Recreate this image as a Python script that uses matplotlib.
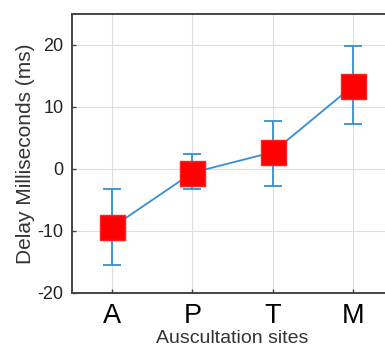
import numpy as np
import matplotlib.pyplot as plt

plt.rcParams['font.family'] = ['Liberation Sans', 'DejaVu Sans']

sites = ['A', 'P', 'T', 'M']
delay = [-9.4, -0.6, 2.7, 13.4]
err_low = [-15.5, -3.2, -2.7, 7.3]
err_high = [-3.2, 2.4, 7.7, 19.8]
y_ticks = [-20, -10, 0, 10, 20]

x = np.arange(1, len(sites) + 1)
delay = np.array(delay)
yerr = [delay - np.array(err_low), np.array(err_high) - delay]

fig = plt.figure(figsize=(3.85, 3.49), dpi=100)
ax = fig.add_axes([0.187, 0.1605, 0.834, 0.7995])

ax.errorbar(x, delay, yerr=yerr, color='#3390d4', lw=1.3, capsize=6.5,
            capthick=1.3, marker='s', ms=18, mfc='#ff0000', mec='#ff2020',
            zorder=3)

ax.set_xlim(0.5, 4.5)
ax.set_ylim(-20, 25)
ax.set_xticks(x)
ax.set_xticklabels(sites, fontsize=19.5)
ax.set_yticks(y_ticks)
ax.set_yticklabels([str(v) for v in y_ticks], fontsize=13, color='#222222')
ax.tick_params(direction='in', length=3, color='#444444', width=1, pad=6)
ax.tick_params(axis='x', pad=7)
ax.grid(True, color='#dddddd', lw=0.8)
for s in ax.spines.values():
    s.set_color('#444444')
    s.set_linewidth(1.4)

ax.set_xlabel('Auscultation sites', fontsize=14, color='#333333', labelpad=1)
ax.set_ylabel('Delay Milliseconds (ms)', fontsize=15, color='#333333', labelpad=2)

fig.savefig('out.png', dpi=100)
